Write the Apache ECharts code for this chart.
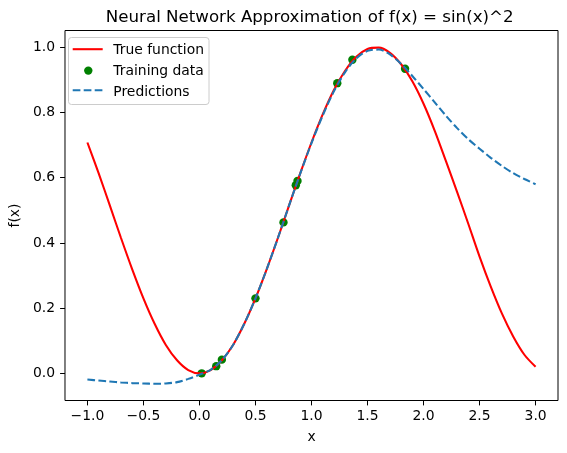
<!DOCTYPE html>
<html>
<head>
<meta charset="utf-8">
<script src="https://cdn.jsdelivr.net/npm/echarts@6/dist/echarts.min.js"></script>
<style>
  html, body { margin: 0; padding: 0; background: #fff; }
  #chart { width: 567px; height: 453px; }
</style>
</head>
<body>
<div id="chart"></div>
<script>
// x grid of the two curves (step 0.1 from -1 to 3)
var curveX = [
  -1.0, -0.9, -0.8, -0.7, -0.6, -0.5, -0.4, -0.3, -0.2, -0.1,
  0.0, 0.1, 0.2, 0.3, 0.4, 0.5, 0.6, 0.7, 0.8, 0.9,
  1.0, 1.1, 1.2, 1.3, 1.4, 1.5, 1.6, 1.7, 1.8, 1.9,
  2.0, 2.1, 2.2, 2.3, 2.4, 2.5, 2.6, 2.7, 2.8, 2.9, 3.0
]
var trueY = [
  0.708, 0.614, 0.515, 0.415, 0.319, 0.230, 0.152, 0.087, 0.040, 0.010,
  0.000, 0.010, 0.040, 0.087, 0.152, 0.230, 0.319, 0.415, 0.515, 0.614,
  0.708, 0.794, 0.869, 0.928, 0.971, 0.995, 0.999, 0.983, 0.948, 0.896,
  0.827, 0.744, 0.651, 0.556, 0.458, 0.358, 0.266, 0.183, 0.113, 0.057, 0.020
]
var predY = [
  -0.019, -0.022, -0.025, -0.028, -0.030, -0.031, -0.032, -0.031, -0.027, -0.017,
  -0.004, 0.011, 0.040, 0.087, 0.152, 0.230, 0.319, 0.415, 0.515, 0.613,
  0.706, 0.791, 0.865, 0.924, 0.966, 0.989, 0.993, 0.978, 0.949, 0.912,
  0.872, 0.831, 0.790, 0.752, 0.718, 0.689, 0.661, 0.636, 0.614, 0.596, 0.580
]
var trainX = [0.02, 0.15, 0.20, 0.50, 0.75, 0.86, 0.875, 1.23, 1.365, 1.835]
var trainY = [0.000, 0.022, 0.042, 0.230, 0.463, 0.577, 0.590, 0.890, 0.962, 0.934]

var xTicks = [-1.0, -0.5, 0.0, 0.5, 1.0, 1.5, 2.0, 2.5, 3.0]
var yTicks = [0.0, 0.2, 0.4, 0.6, 0.8, 1.0]

var FONT = 'DejaVu Sans'

function pairs(xs, ys) {
  return xs.map(function (x, i) { return [x, ys[i]] })
}
function fmt(v) {
  return (v < 0 ? '\u2212' : '') + Math.abs(v).toFixed(1)
}

var chart = echarts.init(document.getElementById('chart'), null, { renderer: 'canvas' })

var axisText = { color: '#000', fontFamily: FONT, fontSize: 13.9, lineHeight: 14 }

chart.setOption({
  backgroundColor: '#fff',
  animation: false,
  title: {
    text: 'Neural Network Approximation of f(x) = sin(x)^2',
    left: 309.7,
    top: 9,
    padding: 0,
    textAlign: 'center',
    textStyle: { color: '#000', fontFamily: FONT, fontSize: 16.67, fontWeight: 'normal', lineHeight: 16.67 }
  },
  grid: {
    left: 61.5,
    top: 30.5,
    width: 496.5,
    height: 370,
    show: true,
    borderColor: '#000',
    borderWidth: 1,
    backgroundColor: 'transparent'
  },
  xAxis: {
    type: 'value',
    min: -1.2,
    max: 3.2,
    name: 'x',
    nameLocation: 'middle',
    nameGap: 29.5,
    nameTextStyle: axisText,
    axisLine: { show: false, onZero: false },
    splitLine: { show: false },
    axisTick: { show: true, customValues: xTicks, length: 4.9, lineStyle: { color: '#000', width: 1 } },
    axisLabel: { customValues: xTicks, margin: 9, formatter: fmt, color: '#000', fontFamily: FONT, fontSize: 13.9, lineHeight: 14 }
  },
  yAxis: {
    type: 'value',
    min: -0.0833,
    max: 1.0515,
    name: 'f(x)',
    nameLocation: 'middle',
    nameRotate: 90,
    nameGap: 42,
    nameTextStyle: axisText,
    axisLine: { show: false, onZero: false },
    splitLine: { show: false },
    axisTick: { show: true, customValues: yTicks, length: 4.9, lineStyle: { color: '#000', width: 1 } },
    axisLabel: { customValues: yTicks, margin: 10, formatter: fmt, color: '#000', fontFamily: FONT, fontSize: 13.9, lineHeight: 14 }
  },
  series: [
    {
      name: 'True function',
      type: 'line',
      data: pairs(curveX, trueY),
      smooth: 0.3,
      symbol: 'none',
      z: 3,
      lineStyle: { color: '#ff0000', width: 2.08 }
    },
    {
      name: 'Training data',
      type: 'scatter',
      data: pairs(trainX, trainY),
      symbol: 'circle',
      symbolSize: 8.4,
      z: 2,
      itemStyle: { color: '#008000', opacity: 1 }
    },
    {
      name: 'Predictions',
      type: 'line',
      data: pairs(curveX, predY),
      smooth: 0.3,
      symbol: 'none',
      z: 4,
      lineStyle: { color: '#1f77b4', width: 2.08, type: [7.7, 3.3] }
    }
  ],
  graphic: [
    {
      type: 'group',
      z: 100,
      children: [
        { type: 'rect', shape: { x: 68.5, y: 37.5, width: 140.5, height: 67, r: 3 },
          style: { fill: 'rgba(255,255,255,0.8)', stroke: '#cccccc', lineWidth: 1 } },
        { type: 'line', shape: { x1: 72.7, y1: 49.2, x2: 102.7, y2: 49.2 },
          style: { stroke: '#ff0000', lineWidth: 2.08 } },
        { type: 'circle', shape: { cx: 88.3, cy: 70.6, r: 4.2 },
          style: { fill: '#008000' } },
        { type: 'line', shape: { x1: 72.7, y1: 90.3, x2: 102.7, y2: 90.3 },
          style: { stroke: '#1f77b4', lineWidth: 2.08, lineDash: [7.7, 3.3] } },
        { type: 'text', x: 113.3, y: 50.6,
          style: { text: 'True function', fill: '#000', font: '13.9px "DejaVu Sans"', verticalAlign: 'middle', align: 'left' } },
        { type: 'text', x: 113.3, y: 71.4,
          style: { text: 'Training data', fill: '#000', font: '13.9px "DejaVu Sans"', verticalAlign: 'middle', align: 'left' } },
        { type: 'text', x: 113.3, y: 92.1,
          style: { text: 'Predictions', fill: '#000', font: '13.9px "DejaVu Sans"', verticalAlign: 'middle', align: 'left' } }
      ]
    }
  ]
})
</script>
</body>
</html>
